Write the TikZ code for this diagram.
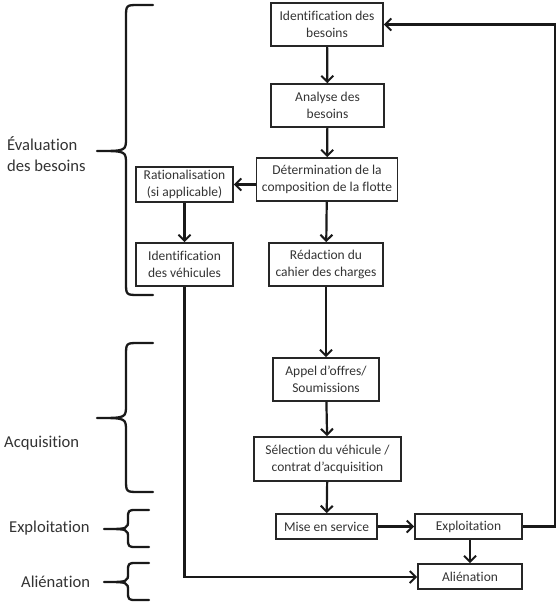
\documentclass[tikz,border=0pt]{standalone}
\usepackage{fontspec}
\setmainfont{Carlito}[Ligatures={NoCommon}]
\usetikzlibrary{arrows.meta}
\newcommand\mycurly[7]{%
  \draw[bracestyle] (#1,#4) -- ({#2+#7},#4) .. controls (#2,#4) .. ({#2},{#4+#7})
    -- ({#2},{#5-#7}) .. controls (#2,#5) .. (#3,#5)
    .. controls (#2,#5) .. ({#2},{#5+#7})
    -- ({#2},{#6-#7}) .. controls (#2,#6) .. ({#2+#7},#6) -- (#1,#6);}
\begin{document}
\begin{tikzpicture}[x=1pt,y=-1pt,
  box/.style={draw=black!85,line width=1.7pt,inner sep=0pt,align=center,
    font=\fontsize{13.5}{17}\selectfont,text=black!80},
  conn/.style={line width=2.2pt,draw=black!90,-{Straight Barb[length=6pt,width=12pt,line width=2pt]}},
  bracestyle/.style={line width=2.3pt,draw=black!90,line cap=round,line join=round},
  side/.style={font=\fontsize{16.6}{21}\selectfont,align=left,anchor=west,text=black!80,inner sep=0pt}]
\useasboundingbox (0,0) rectangle (559,604);
% boxes
\node[box,minimum width=112pt,minimum height=43pt] (idb) at (327,24.5) {Identification des\\besoins};
\node[box,minimum width=113pt,minimum height=43pt] (anb) at (327.5,105.5) {Analyse des\\besoins};
\node[box,minimum width=141pt,minimum height=43pt] (det) at (327,179.5) {Détermination de la\\composition de la flotte};
\node[box,minimum width=114pt,minimum height=43pt] (red) at (326,264.5) {Rédaction du\\cahier des charges};
\node[box,minimum width=97pt,minimum height=35pt] (rat) at (184.5,184.5) {Rationalisation\\(si applicable)};
\node[box,minimum width=97pt,minimum height=43pt] (idv) at (184.5,264.5) {Identification\\des véhicules};
\node[box,minimum width=106pt,minimum height=43pt] (app) at (326,379.5) {Appel d’offres/\\Soumissions};
\node[box,minimum width=147pt,minimum height=44pt] (sel) at (327.5,459) {Sélection du véhicule /\\contrat d’acquisition};
\node[box,minimum width=101pt,minimum height=25pt] (mis) at (326.5,526.5) {Mise en service};
\node[box,minimum width=107pt,minimum height=25pt] (exp) at (468.5,526.5) {Exploitation};
\node[box,minimum width=104pt,minimum height=25pt] (ali) at (470,576.5) {Aliénation};
\coordinate (cr) at (555,0);
\coordinate (cb) at (0,577);
% connectors
\draw[conn] (idb) -- (anb);
\draw[conn] (anb) -- (det);
\draw[conn] (det) -- (red);
\draw[conn] (red) -- (app);
\draw[conn] (app) -- (sel);
\draw[conn] (sel) -- (mis);
\draw[conn] (det.west |- rat.east) -- (rat.east);
\draw[conn] (rat) -- (idv);
\draw[conn] (idv.south) -- (idv.south |- cb) -- (ali.west |- cb);
\draw[conn] (mis) -- (exp);
\draw[conn] (exp.south -| ali.north) -- (ali.north);
\draw[conn] (exp.east) -- (cr |- exp.east) -- (cr |- idb.east) -- (idb.east);
% braces
\mycurly{153}{126}{97}{5}{151}{295}{13}
\mycurly{153}{126}{97}{343}{418}{492}{13}
\mycurly{149}{128}{104}{510}{529}{547}{9}
\mycurly{149}{128}{104}{563}{582}{600}{9}
% side labels
\node[side] (lev) at (7,154) {Évaluation\\des besoins};
\node[side] (lac) at (4,443) {Acquisition};
\node[side] (lex) at (9,528) {Exploitation};
\node[side] (lal) at (21,582) {Aliénation};
\end{tikzpicture}
\end{document}
